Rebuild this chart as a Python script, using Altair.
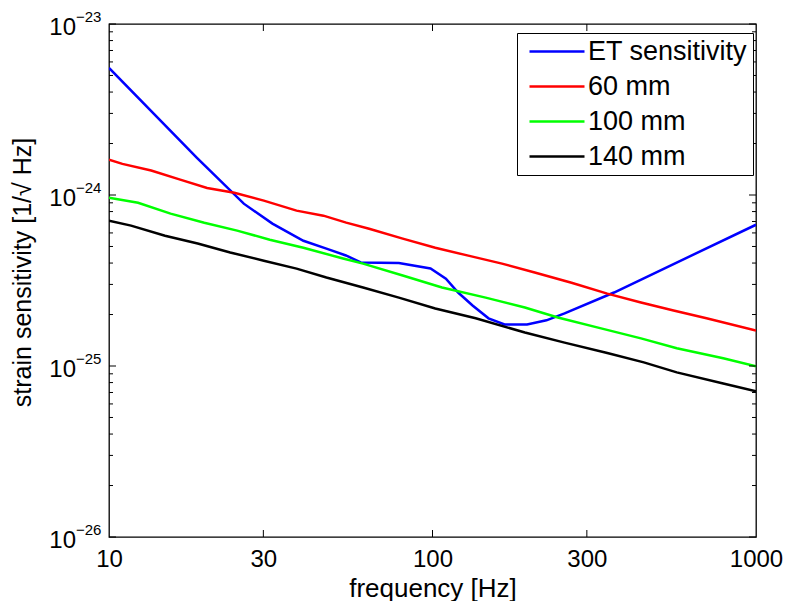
import altair as alt
import pandas as pd

FONT = "Liberation Sans"

# ---- data ----
series_names = ["ET sensitivity", "60 mm", "100 mm", "140 mm"]
series_colors = ["#0000FF", "#FF0000", "#00FF00", "#000000"]

et_f = [10, 18.7, 26.1, 32.0, 39.9, 47, 54, 60, 78.7, 98.6, 110, 120, 133, 149, 167, 196, 225, 256, 364, 1000]
et_s = [5.53e-24, 1.65e-24, 8.9e-25, 6.8e-25, 5.4e-25, 4.86e-25, 4.43e-25, 4.03e-25, 4.0e-25, 3.72e-25,
        3.24e-25, 2.69e-25, 2.26e-25, 1.90e-25, 1.75e-25, 1.75e-25, 1.85e-25, 2.03e-25, 2.69e-25, 6.7e-25]

mm60_f = [10, 11.0, 13.5, 16.6, 20.1, 24.4, 30.1, 38.0, 46.0, 54.1, 63.7, 80.9, 102, 129, 164, 207, 269, 347, 441, 556, 703, 1000]
mm60_s = [1.61e-24, 1.52e-24, 1.39e-24, 1.23e-24, 1.10e-24, 1.03e-24, 9.27e-25, 8.10e-25, 7.57e-25, 6.89e-25,
          6.35e-25, 5.56e-25, 4.92e-25, 4.42e-25, 3.97e-25, 3.52e-25, 3.07e-25, 2.65e-25, 2.35e-25, 2.11e-25,
          1.90e-25, 1.61e-25]

mm100_f = [10, 12.3, 15.5, 19.7, 24.9, 31.4, 39.9, 52.9, 61.0, 80.9, 107, 146, 193, 244, 332, 441, 569, 792, 1000]
mm100_s = [9.64e-25, 9.01e-25, 7.78e-25, 6.89e-25, 6.19e-25, 5.48e-25, 4.92e-25, 4.25e-25, 3.97e-25, 3.38e-25,
           2.88e-25, 2.51e-25, 2.20e-25, 1.92e-25, 1.66e-25, 1.45e-25, 1.27e-25, 1.11e-25, 9.95e-26]

mm140_f = [10, 11.7, 14.9, 18.8, 23.7, 30.1, 38.0, 47.0, 61.0, 78.7, 102, 136, 193, 256, 347, 450, 569, 792, 1000]
mm140_s = [7.08e-25, 6.62e-25, 5.78e-25, 5.20e-25, 4.61e-25, 4.13e-25, 3.71e-25, 3.29e-25, 2.88e-25, 2.51e-25,
           2.17e-25, 1.90e-25, 1.57e-25, 1.37e-25, 1.19e-25, 1.05e-25, 9.18e-26, 7.91e-26, 7.11e-26]

x_tick_values = [10, 30, 100, 300, 1000]
x_inner_ticks = [30, 100, 300]
y_decades = [1e-26, 1e-25, 1e-24, 1e-23]
y_exponents = ["\u221226", "\u221225", "\u221224", "\u221223"]
y_minor = [m * d for d in [1e-26, 1e-25, 1e-24] for m in [2, 3, 4, 5, 6, 7, 8, 9]]

# ---- tables ----
rows = []
for name, fs, ss in [(series_names[0], et_f, et_s), (series_names[1], mm60_f, mm60_s),
                     (series_names[2], mm100_f, mm100_s), (series_names[3], mm140_f, mm140_s)]:
    for i, (f, s) in enumerate(zip(fs, ss)):
        rows.append({"f": f, "s": s, "series": name, "order": i})
lines_df = pd.DataFrame(rows)

W, H = 647, 513
xscale = alt.Scale(type="log", domain=[10, 1000], nice=False)
yscale = alt.Scale(type="log", domain=[1e-26, 1e-23], nice=False)
XTITLE = "frequency [Hz]"
YTITLE = "strain sensitivity [1/\u221a Hz]"

xaxis = alt.Axis(
    values=x_tick_values, format="d", ticks=False, domain=False, grid=False,
    labelFontSize=24, labelPadding=10, labelFlush=False, labelOverlap=False,
    labelColor="black", title=XTITLE, titleFontSize=26,
    titleFontWeight="normal", titlePadding=4, titleColor="black")
yaxis = alt.Axis(
    labels=False, ticks=False, domain=False, grid=False, title=YTITLE,
    titleFontSize=25, titleFontWeight="normal", titlePadding=74, titleColor="black",
    titleY=248)


def X():
    return alt.X("f:Q", scale=xscale, title=XTITLE, axis=xaxis)


def Y():
    return alt.Y("s:Q", scale=yscale, title=YTITLE, axis=yaxis)


lines = alt.Chart(lines_df).mark_line(strokeWidth=2.5, clip=True).encode(
    x=X(), y=Y(),
    color=alt.Color("series:N", scale=alt.Scale(domain=series_names, range=series_colors),
                    sort=series_names, legend=alt.Legend(title=None)),
    order="order:Q",
)

ymaj_df = pd.DataFrame({"s": y_decades, "exp": y_exponents})
ymin_df = pd.DataFrame({"s": y_minor})
xt_df = pd.DataFrame({"f": x_inner_ticks})


def yrule(df, xa, xb):
    return alt.Chart(df).mark_rule(color="black", strokeWidth=1).encode(
        y=Y(), x=alt.value(xa), x2=alt.value(xb))


def xrule(ya, yb):
    return alt.Chart(xt_df).mark_rule(color="black", strokeWidth=1).encode(
        x=X(), y=alt.value(ya), y2=alt.value(yb))


ticks = [
    yrule(ymaj_df, 0, 7), yrule(ymaj_df, W, W - 7),
    yrule(ymin_df, 0, 4), yrule(ymin_df, W, W - 4),
    xrule(H, H - 7), xrule(0, 7),
]

ten = alt.Chart(ymaj_df).mark_text(align="right", baseline="alphabetic", fontSize=24,
                                    dy=11, color="black").encode(
    y=Y(), x=alt.value(-33), text=alt.value("10"))
expo = alt.Chart(ymaj_df).mark_text(align="left", baseline="alphabetic", fontSize=15,
                                     dy=-2, color="black").encode(
    y=Y(), x=alt.value(-33), text="exp:N")

chart = alt.layer(lines, *ticks, ten, expo).properties(
    width=W, height=H,
    padding={"left": 101, "top": 16, "right": 27, "bottom": 64},
    autosize=alt.AutoSizeParams(type="none"),
).configure(font=FONT).configure_view(
    stroke="black", strokeWidth=1.3
).configure_legend(
    orient="none", legendX=408, legendY=9,
    fillColor="white", strokeColor="black", strokeWidth=1, cornerRadius=0,
    padding=5, rowPadding=7, labelFontSize=27, labelFont=FONT, labelColor="black",
    symbolType="M-2.75,0H2.75", symbolSize=400, symbolStrokeWidth=2.5,
    symbolOffset=21.5, labelOffset=17.5, labelLimit=400,
)

chart.save("out.html", embed_options={"renderer": "svg", "actions": False})
